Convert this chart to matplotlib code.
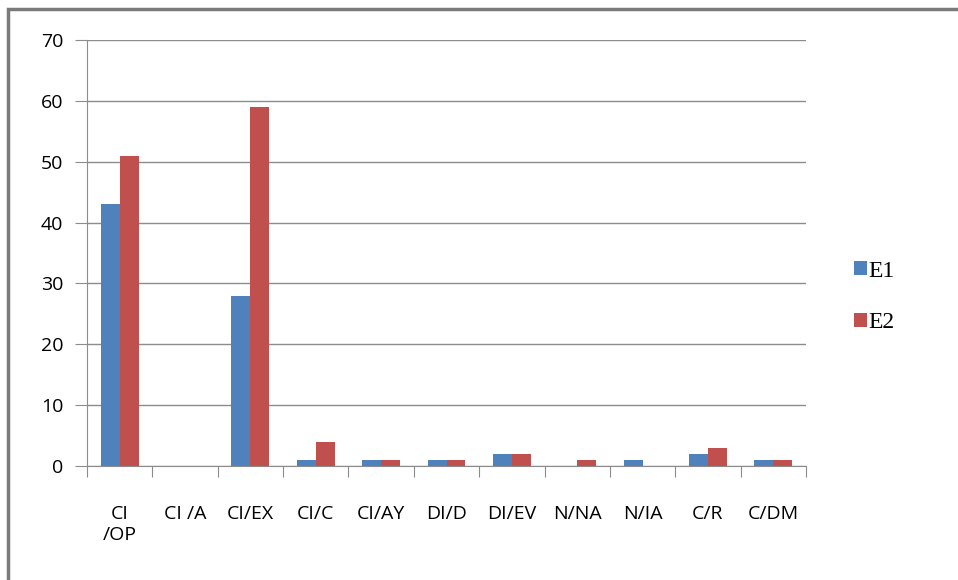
import numpy as np
import matplotlib
matplotlib.use('Agg')
from matplotlib import pyplot as plt
from matplotlib.patches import Rectangle

categories = ['CI\n/OP', 'CI /A', 'CI/EX', 'CI/C', 'CI/AY', 'DI/D', 'DI/EV', 'N/NA', 'N/IA', 'C/R', 'C/DM']
e1 = [43, 0, 28, 1, 1, 1, 2, 0, 1, 2, 1]
e2 = [51, 0, 59, 4, 1, 1, 2, 1, 0, 3, 1]
yticks = [0, 10, 20, 30, 40, 50, 60, 70]

W, H = 958, 580
fig = plt.figure(figsize=(W / 100, H / 100), dpi=100)
ax = fig.add_axes([87 / W, 1 - 466 / H, (806 - 87) / W, (466 - 40) / H])

x = np.arange(len(categories))
bw = 0.29
b1 = ax.bar(x - bw / 2, e1, bw, color='#4F81BD', label='E1', zorder=3)
b2 = ax.bar(x + bw / 2, e2, bw, color='#C0504D', label='E2', zorder=3)

ax.set_xlim(-0.5, len(categories) - 0.5)
ax.set_ylim(0, 70)
ax.set_yticks(yticks)
ax.set_yticklabels([str(v) for v in yticks], fontfamily='Open Sans', fontsize=14)
ax.yaxis.grid(True, color='#8c8c8c', linewidth=1, zorder=0)
ax.tick_params(axis='y', length=9, color='#8c8c8c', pad=8)

# category boundaries as tick marks, labels in between
ax.set_xticks(np.arange(len(categories) + 1) - 0.5)
ax.set_xticklabels([])
ax.set_xticks(x, minor=True)
ax.set_xticklabels(categories, minor=True, fontfamily='Open Sans', fontsize=14,
                   linespacing=1.25, va='top')
ax.tick_params(axis='x', which='major', length=8, color='#8c8c8c')
ax.tick_params(axis='x', which='minor', length=0, pad=28)

for s in ['top', 'right']:
    ax.spines[s].set_visible(False)
for s in ['left', 'bottom']:
    ax.spines[s].set_color('#8c8c8c')

leg = fig.legend(handles=[b1, b2], loc='center left', bbox_to_anchor=(833 / W, 1 - 297 / H),
                 frameon=False, prop={'family': 'Liberation Serif', 'size': 17},
                 handlelength=0.55, handleheight=0.55, handletextpad=0.05, labelspacing=1.3)

# outer frame (left and top visible in the crop)
fig.patches.append(Rectangle((7.5 / W, -0.1), 1.2, 1 - 9.5 / H + 0.1, transform=fig.transFigure,
                             fill=False, edgecolor='#7a7a7a', linewidth=2.5))

fig.savefig('out.png', dpi=100)
